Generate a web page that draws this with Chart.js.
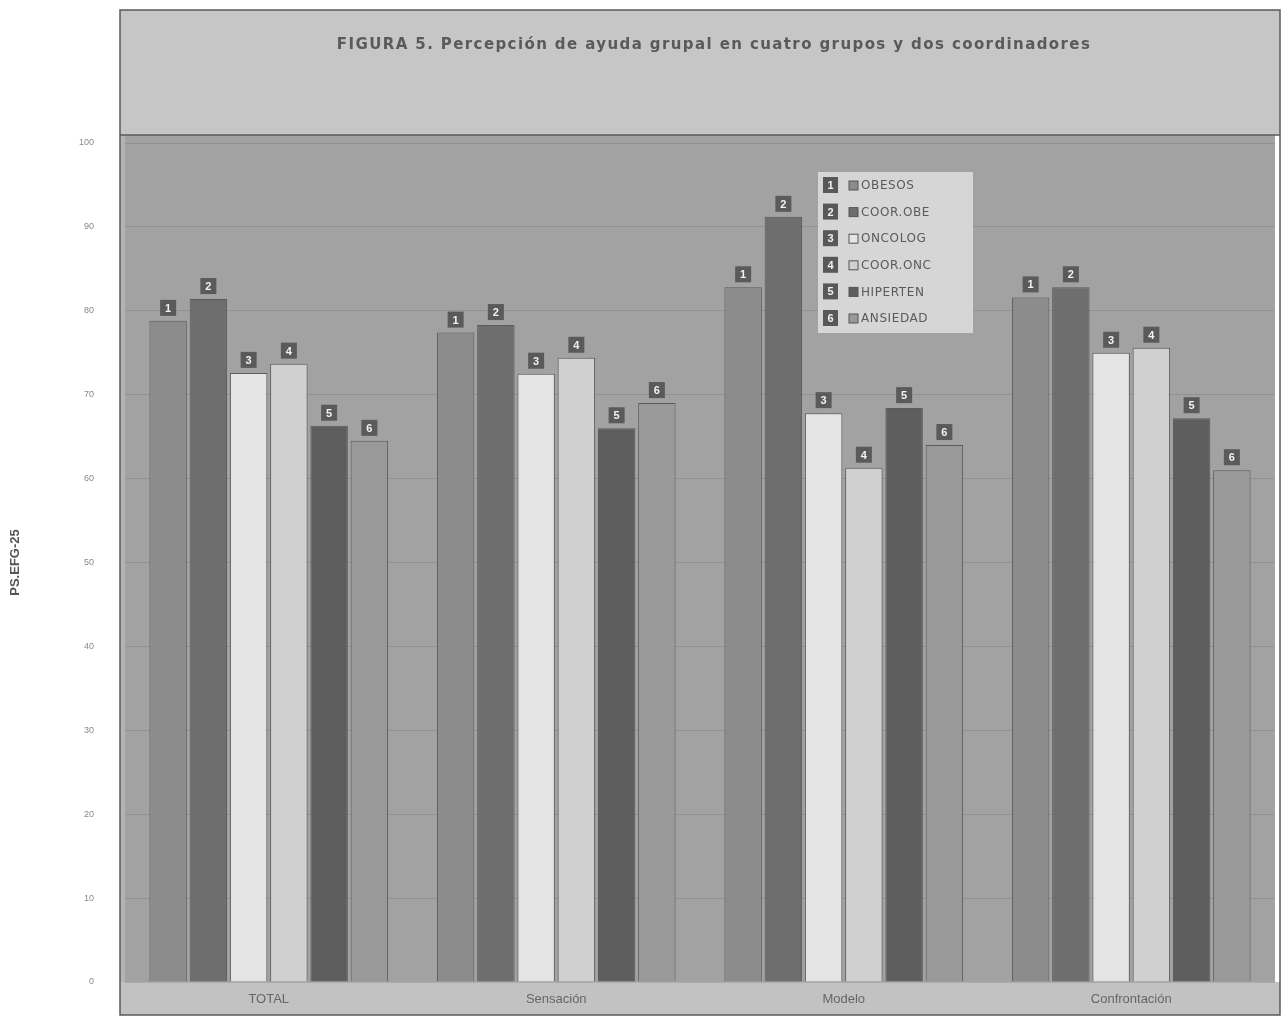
<!DOCTYPE html>
<html>
<head>
<meta charset="utf-8">
<script src="https://cdn.jsdelivr.net/npm/chart.js@4/dist/chart.umd.min.js"></script>
<style>
html,body{margin:0;padding:0;background:#fff;}
#wrap{width:1283px;height:1021px;position:relative;}
</style>
</head>
<body>
<div id="wrap"><canvas id="c" width="1283" height="1021"></canvas></div>
<script>
const categories = ["TOTAL", "Sensación", "Modelo", "Confrontación"];
const seriesNames = ["OBESOS", "COOR.OBE", "ONCOLOG", "COOR.ONC", "HIPERTEN", "ANSIEDAD"];
const obesos   = [78.8, 77.4, 82.8, 81.6];
const coorObe  = [81.4, 78.3, 91.2, 82.8];
const oncolog  = [72.6, 72.5, 67.8, 75.0];
const coorOnc  = [73.7, 74.4, 61.3, 75.6];
const hiperten = [66.3, 66.0, 68.4, 67.2];
const ansiedad = [64.5, 69.0, 64.0, 61.0];
const yTicks = [0, 10, 20, 30, 40, 50, 60, 70, 80, 90, 100];
const seriesColors = ["#8c8c8c", "#6e6e6e", "#e4e4e4", "#d0d0d0", "#5e5e5e", "#999999"];
const titleText = "FIGURA 5. Percepción de ayuda grupal en cuatro grupos y dos coordinadores";
const yTitle = "PS.EFG-25";

const seriesValues = [obesos, coorObe, oncolog, coorOnc, hiperten, ansiedad];

const bgPlugin = {
  id: 'bg',
  beforeDraw(chart) {
    const ctx = chart.ctx, a = chart.chartArea;
    const wallTop = a.top - 8;
    ctx.save();
    ctx.fillStyle = '#ffffff';
    ctx.fillRect(0, 0, chart.width, chart.height);
    // title band
    ctx.fillStyle = '#c6c6c6';
    ctx.fillRect(120, 10, 1160, wallTop - 10);
    // plot wall
    ctx.fillStyle = '#a2a2a2';
    ctx.fillRect(a.left, wallTop, a.right - a.left, a.bottom - wallTop);
    // floor / axis band
    ctx.fillStyle = '#c2c2c2';
    ctx.fillRect(120, a.bottom, 1160, 1015 - a.bottom);
    ctx.fillStyle = '#b4b4b4';
    ctx.fillRect(120, wallTop, a.left - 120, a.bottom - wallTop);
    // frame
    ctx.strokeStyle = '#5a5a5a';
    ctx.lineWidth = 1.5;
    ctx.strokeRect(120, 10, 1160, 1005);
    ctx.beginPath();
    ctx.moveTo(120, wallTop); ctx.lineTo(1280, wallTop);
    ctx.stroke();
    // title
    ctx.fillStyle = '#5a5a5a';
    ctx.font = 'bold 15px "DejaVu Sans", sans-serif';
    if ('letterSpacing' in ctx) ctx.letterSpacing = '1.4px';
    ctx.textAlign = 'center';
    ctx.textBaseline = 'middle';
    ctx.fillText(titleText, 714, 45);
    ctx.restore();
  }
};

const labelPlugin = {
  id: 'numlabels',
  afterDatasetsDraw(chart) {
    const ctx = chart.ctx;
    ctx.save();
    chart.data.datasets.forEach((ds, di) => {
      const meta = chart.getDatasetMeta(di);
      meta.data.forEach((bar) => {
        const s = 16;
        const x = bar.x - s / 2, y = bar.y - s - 5;
        ctx.fillStyle = '#5a5a5a';
        ctx.fillRect(x, y, s, s);
        ctx.fillStyle = '#f2f2f2';
        ctx.font = 'bold 11px "Liberation Sans", Arial, sans-serif';
        ctx.textAlign = 'center';
        ctx.textBaseline = 'middle';
        ctx.fillText(String(di + 1), bar.x, y + s / 2 + 1);
      });
    });
    // legend box
    const lx = 818, ly = 172, lw = 155, lh = 161;
    ctx.fillStyle = '#d6d6d6';
    ctx.fillRect(lx, ly, lw, lh);
    chart.data.datasets.forEach((ds, di) => {
      const cy = ly + 13 + di * 26.6;
      ctx.fillStyle = '#585858';
      ctx.fillRect(lx + 5, cy - 8, 15, 16);
      ctx.fillStyle = '#f2f2f2';
      ctx.font = 'bold 11px "Liberation Sans", Arial, sans-serif';
      ctx.textAlign = 'center';
      ctx.textBaseline = 'middle';
      ctx.fillText(String(di + 1), lx + 12.5, cy + 1);
      ctx.fillStyle = ds.backgroundColor;
      ctx.fillRect(lx + 31, cy - 4, 9, 9);
      ctx.strokeStyle = '#555';
      ctx.lineWidth = 1;
      ctx.strokeRect(lx + 31, cy - 4, 9, 9);
      ctx.fillStyle = '#5a5a5a';
      ctx.font = '12px "DejaVu Sans", sans-serif';
      if ('letterSpacing' in ctx) ctx.letterSpacing = '0.6px';
      ctx.textAlign = 'left';
      ctx.fillText(ds.label, lx + 43, cy + 1);
      if ('letterSpacing' in ctx) ctx.letterSpacing = '0px';
    });
    ctx.restore();
  }
};

new Chart(document.getElementById('c'), {
  type: 'bar',
  data: {
    labels: categories,
    datasets: seriesNames.map((name, i) => ({
      label: name,
      data: seriesValues[i],
      backgroundColor: seriesColors[i],
      borderColor: 'rgba(60,60,60,0.7)',
      borderWidth: 1,
      categoryPercentage: 0.84,
      barPercentage: 0.93
    }))
  },
  options: {
    responsive: false,
    animation: false,
    layout: { padding: { left: 0, right: 8, top: 143, bottom: 0 } },
    plugins: {
      legend: { display: false },
      tooltip: { enabled: false },
      title: { display: false }
    },
    scales: {
      x: {
        grid: { display: false, drawTicks: false },
        border: { display: false },
        ticks: {
          color: '#666666',
          padding: 10,
          font: { family: '"Liberation Sans", Arial, sans-serif', size: 13 }
        },
        afterFit(s) { s.height = 39; }
      },
      y: {
        min: 0, max: 100,
        afterBuildTicks(s) { s.ticks = yTicks.map(v => ({ value: v })); },
        grid: { color: 'rgba(70,70,70,0.18)', drawTicks: false },
        border: { display: false },
        ticks: {
          color: '#888888',
          padding: 31,
          font: { family: '"Liberation Sans", Arial, sans-serif', size: 9 }
        },
        title: {
          display: true,
          text: yTitle,
          color: '#555555',
          padding: { top: 8, bottom: 0 },
          font: { family: '"Liberation Sans", Arial, sans-serif', size: 13, weight: 'bold' }
        },
        afterFit(s) { s.width = 125; }
      }
    }
  },
  plugins: [bgPlugin, labelPlugin]
});
</script>
</body>
</html>
